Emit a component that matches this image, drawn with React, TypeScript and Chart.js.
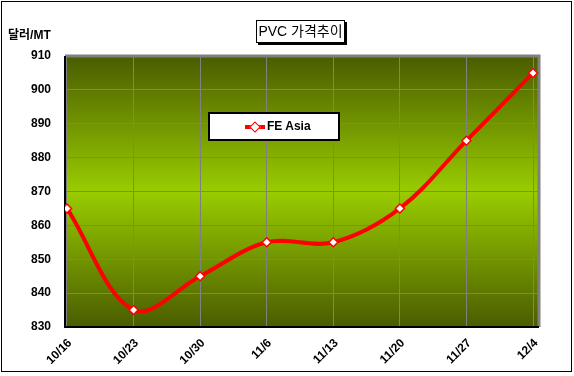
import React, { useEffect, useRef } from "react";
import { Chart, registerables } from "chart.js";

Chart.register(...registerables);

const categories = ["10/16", "10/23", "10/30", "11/6", "11/13", "11/20", "11/27", "12/4"];
const feAsia = [865, 835, 845, 855, 855, 865, 885, 905];
const yTicks = [830, 840, 850, 860, 870, 880, 890, 900, 910];
const titleText = "PVC 가격추이";
const yTitle = "달러/MT";
const seriesName = "FE Asia";

const FONT = "'Liberation Sans', Arial, 'Noto Sans CJK KR', sans-serif";

const bgPlugin = {
  id: "bgPlugin",
  beforeDraw(chart: any) {
    const { ctx, chartArea } = chart;
    const { left, top, right, bottom } = chartArea;
    const g = ctx.createLinearGradient(0, top, 0, bottom);
    g.addColorStop(0, "#4a5c00");
    g.addColorStop(0.5, "#99cc00");
    g.addColorStop(1, "#4a5c00");
    ctx.save();
    ctx.fillStyle = g;
    ctx.fillRect(left, top, right - left, bottom - top);
    ctx.restore();
  },
  beforeDatasetsDraw(chart: any) {
    const { ctx, chartArea } = chart;
    const { left, top, right, bottom } = chartArea;
    ctx.save();
    ctx.strokeStyle = "#808080";
    ctx.lineWidth = 3;
    ctx.beginPath();
    ctx.moveTo(left, top);
    ctx.lineTo(right, top);
    ctx.lineTo(right, bottom);
    ctx.stroke();
    ctx.strokeStyle = "#000";
    ctx.lineWidth = 2;
    ctx.beginPath();
    ctx.moveTo(left, top);
    ctx.lineTo(left, bottom);
    ctx.lineTo(right, bottom);
    ctx.stroke();
    ctx.restore();
  },
};

export default function App() {
  const ref = useRef<HTMLCanvasElement>(null);
  useEffect(() => {
    if (!ref.current) return;
    const chart = new Chart(ref.current, {
      type: "line",
      data: {
        datasets: [
          {
            label: seriesName,
            data: feAsia.map((v, i) => ({ x: i, y: v })),
            borderColor: "#ff0000",
            borderWidth: 4,
            tension: 0.35,
            pointStyle: "rectRot",
            pointRadius: 4.5,
            pointBackgroundColor: "#ffffff",
            pointBorderColor: "#ff0000",
            pointBorderWidth: 1.5,
          },
        ],
      },
      options: {
        animation: false,
        responsive: false,
        layout: { padding: { top: 56, right: 35, bottom: 0, left: 0 } },
        plugins: { legend: { display: false }, tooltip: { enabled: false }, title: { display: false } },
        scales: {
          x: {
            type: "linear",
            min: -0.03,
            max: 7.09,
            afterBuildTicks: (s: any) => {
              s.ticks = categories.map((_, i) => ({ value: i }));
            },
            afterFit: (s: any) => {
              s.height = 49;
            },
            ticks: {
              autoSkip: false,
              maxRotation: 45,
              minRotation: 45,
              padding: 9,
              labelOffset: 3,
              color: "#000",
              font: { family: FONT, size: 12, weight: "bold" },
              callback: (v: any) => categories[v] ?? "",
            },
            grid: { color: "#808080", lineWidth: 1, drawTicks: false },
            border: { display: false },
          },
          y: {
            min: yTicks[0],
            max: yTicks[yTicks.length - 1],
            afterBuildTicks: (s: any) => {
              s.ticks = yTicks.map((v) => ({ value: v }));
            },
            afterFit: (s: any) => {
              s.width = 65;
            },
            ticks: {
              padding: 14,
              color: "#000",
              font: { family: FONT, size: 12, weight: "bold" },
            },
            grid: { color: "#808080", lineWidth: 1, drawTicks: false },
            border: { display: false },
          },
        },
      },
      plugins: [bgPlugin],
    } as any);
    return () => chart.destroy();
  }, []);

  return (
    <div style={{ position: "absolute", left: 0, top: 0, width: 574, height: 376, background: "#fff", fontFamily: FONT }}>
      <canvas ref={ref} width={574} height={376} style={{ position: "absolute", left: 0, top: 0, width: 574, height: 376 }} />
      <div style={{ position: "absolute", left: 1, top: 1, width: 571, height: 371, border: "1px solid #000", boxSizing: "border-box", pointerEvents: "none" }} />
      <div style={{ position: "absolute", left: 8, top: 25, fontSize: 12, fontWeight: "bold", color: "#000", whiteSpace: "nowrap" }}>{yTitle}</div>
      <div
        style={{
          position: "absolute",
          left: 256,
          top: 20,
          width: 89,
          height: 23,
          boxSizing: "border-box",
          border: "1px solid #000",
          background: "#fff",
          boxShadow: "2px 2px 0 #000",
          fontSize: 14,
          lineHeight: "21px",
          textAlign: "center",
          color: "#000",
          whiteSpace: "nowrap",
        }}
      >
        {titleText}
      </div>
      <div
        style={{
          position: "absolute",
          left: 208,
          top: 112,
          width: 132,
          height: 29,
          boxSizing: "border-box",
          border: "2px solid #000",
          background: "#fff",
        }}
      >
        <div style={{ position: "absolute", left: 35, top: 11, width: 20, height: 4, background: "#ff0000" }} />
        <div
          style={{
            position: "absolute",
            left: 41,
            top: 9,
            width: 6,
            height: 6,
            background: "#fff",
            border: "1.5px solid #ff0000",
            transform: "rotate(45deg)",
          }}
        />
        <div style={{ position: "absolute", left: 57, top: 5, fontSize: 12, fontWeight: "bold", color: "#000", lineHeight: "15px", whiteSpace: "nowrap" }}>
          {seriesName}
        </div>
      </div>
    </div>
  );
}
